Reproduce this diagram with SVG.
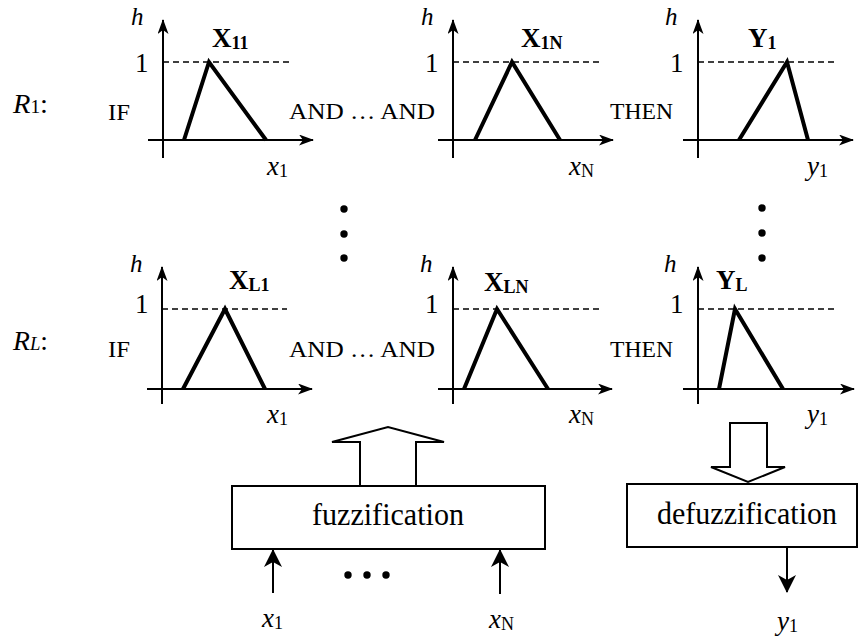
<svg xmlns="http://www.w3.org/2000/svg" width="859" height="637" viewBox="0 0 859 637" font-family="'Liberation Serif', 'Times New Roman', serif">
<style>
text{font-family:"Liberation Serif","Times New Roman",serif;fill:#000}
.axa{stroke:#000;stroke-width:2;fill:none;marker-end:url(#ah)}
.dash{stroke:#000;stroke-width:1.5;stroke-dasharray:6 4;fill:none}
.tri{stroke:#000;stroke-width:4;fill:none;stroke-linejoin:miter}
.h{font-style:italic;font-size:25px}
.one{font-size:27px}
.lbl{font-weight:bold;font-size:27px}
.sub{font-size:18px}
.var{font-style:italic;font-size:27px}
.kw{font-size:24px}
.box{fill:#fff;stroke:#000;stroke-width:2}
.big{font-size:31px}
.blk{fill:#fff;stroke:#000;stroke-width:2;stroke-linejoin:miter}
.dot{fill:#000}
</style>
<defs>
<marker id="ah" viewBox="0 0 15 11" refX="14" refY="5.5" markerWidth="15" markerHeight="11" orient="auto" markerUnits="userSpaceOnUse"><path d="M0,0 L15,5.5 L0,11 L4,5.5 z" fill="#000"/></marker>
<marker id="ai" viewBox="0 0 18 18" refX="17" refY="9" markerWidth="18" markerHeight="18" orient="auto" markerUnits="userSpaceOnUse"><path d="M0,0 L18,9 L0,18 L5,9 z" fill="#000"/></marker>
</defs>
<rect width="859" height="637" fill="#fff"/>

<g id="rule1-label"><text x="13" y="113" font-size="28" textLength="35" lengthAdjust="spacingAndGlyphs"><tspan font-style="italic">R</tspan><tspan font-size="19">1</tspan>:</text></g>
<g id="ruleL-label"><text x="13" y="350" font-size="28" textLength="35" lengthAdjust="spacingAndGlyphs"><tspan font-style="italic">R</tspan><tspan font-size="19" font-style="italic">L</tspan>:</text></g>

<g id="kw-top">
<text class="kw" x="108" y="120" textLength="22" lengthAdjust="spacingAndGlyphs">IF</text>
<text class="kw" x="289" y="119" textLength="146" lengthAdjust="spacingAndGlyphs">AND … AND</text>
<text class="kw" x="610" y="119" textLength="63" lengthAdjust="spacingAndGlyphs">THEN</text>
</g>
<g id="kw-bottom">
<text class="kw" x="108" y="357" textLength="22" lengthAdjust="spacingAndGlyphs">IF</text>
<text class="kw" x="289" y="357" textLength="146" lengthAdjust="spacingAndGlyphs">AND … AND</text>
<text class="kw" x="610" y="357" textLength="63" lengthAdjust="spacingAndGlyphs">THEN</text>
</g>

<g id="chart-X11">
<line class="axa" x1="163" y1="158" x2="163" y2="20"/>
<line class="axa" x1="148" y1="140" x2="313" y2="140"/>
<line class="dash" x1="163" y1="62" x2="290" y2="62"/>
<polyline class="tri" points="184,140 209,62 266,140"/>
<text class="h" x="131" y="25">h</text>
<text class="one" x="135" y="72">1</text>
<text class="lbl" x="212" y="47">X<tspan class="sub" dy="2">11</tspan></text>
<text class="var" x="267" y="175">x<tspan class="sub" font-style="normal" dy="2">1</tspan></text>
</g>

<g id="chart-X1N">
<line class="axa" x1="453" y1="158" x2="453" y2="20"/>
<line class="axa" x1="438" y1="140" x2="613" y2="140"/>
<line class="dash" x1="453" y1="62" x2="600" y2="62"/>
<polyline class="tri" points="475,140 512,62 560,140"/>
<text class="h" x="421" y="25">h</text>
<text class="one" x="425" y="72">1</text>
<text class="lbl" x="521" y="47">X<tspan class="sub" dy="2">1N</tspan></text>
<text class="var" x="569" y="175">x<tspan class="sub" font-style="normal" dy="2">N</tspan></text>
</g>

<g id="chart-Y1">
<line class="axa" x1="698" y1="158" x2="698" y2="20"/>
<line class="axa" x1="683" y1="140" x2="853" y2="140"/>
<line class="dash" x1="698" y1="62" x2="837" y2="62"/>
<polyline class="tri" points="739,140 787,62 808,140"/>
<text class="h" x="665" y="25">h</text>
<text class="one" x="670" y="72">1</text>
<text class="lbl" x="748" y="47">Y<tspan class="sub" dy="2">1</tspan></text>
<text class="var" x="807" y="175">y<tspan class="sub" font-style="normal" dy="2">1</tspan></text>
</g>

<g id="chart-XL1">
<line class="axa" x1="162" y1="404" x2="162" y2="267"/>
<line class="axa" x1="147" y1="389" x2="312" y2="389"/>
<line class="dash" x1="162" y1="309" x2="287" y2="309"/>
<polyline class="tri" points="183,389 225,309 265,389"/>
<text class="h" x="130" y="272">h</text>
<text class="one" x="135" y="313">1</text>
<text class="lbl" x="229" y="289">X<tspan class="sub" dy="2">L1</tspan></text>
<text class="var" x="267" y="423">x<tspan class="sub" font-style="normal" dy="2">1</tspan></text>
</g>

<g id="chart-XLN">
<line class="axa" x1="453" y1="404" x2="453" y2="267"/>
<line class="axa" x1="438" y1="389" x2="612" y2="389"/>
<line class="dash" x1="453" y1="309" x2="600" y2="309"/>
<polyline class="tri" points="464,389 497,309 548,389"/>
<text class="h" x="420" y="272">h</text>
<text class="one" x="425" y="313">1</text>
<text class="lbl" x="484" y="291">X<tspan class="sub" dy="2">LN</tspan></text>
<text class="var" x="569" y="423">x<tspan class="sub" font-style="normal" dy="2">N</tspan></text>
</g>

<g id="chart-YL">
<line class="axa" x1="698" y1="404" x2="698" y2="267"/>
<line class="axa" x1="683" y1="389" x2="854" y2="389"/>
<line class="dash" x1="698" y1="309" x2="836" y2="309"/>
<polyline class="tri" points="719,389 735,309 783,389"/>
<text class="h" x="664" y="272">h</text>
<text class="one" x="670" y="313">1</text>
<text class="lbl" x="716" y="289">Y<tspan class="sub" dy="2">L</tspan></text>
<text class="var" x="807" y="423">y<tspan class="sub" font-style="normal" dy="2">1</tspan></text>
</g>

<g id="vdots">
<circle class="dot" cx="344" cy="209" r="3.7"/>
<circle class="dot" cx="344" cy="234" r="3.7"/>
<circle class="dot" cx="344" cy="258" r="3.7"/>
<circle class="dot" cx="762" cy="208" r="3.7"/>
<circle class="dot" cx="762" cy="233" r="3.7"/>
<circle class="dot" cx="762" cy="258" r="3.7"/>
</g>

<g id="fuzzification">
<rect class="box" x="232" y="486" width="313" height="63"/>
<text class="big" x="388" y="525" text-anchor="middle" textLength="152" lengthAdjust="spacingAndGlyphs">fuzzification</text>
</g>

<g id="defuzzification">
<rect class="box" x="627" y="484" width="230" height="63"/>
<text class="big" x="747" y="524" text-anchor="middle" textLength="180" lengthAdjust="spacingAndGlyphs">defuzzification</text>
</g>

<g id="inputs">
<text class="var" x="262" y="627" font-size="29">x<tspan class="sub" font-style="normal" font-size="20" dy="2">1</tspan></text>
<circle class="dot" cx="348" cy="575" r="3.7"/>
<circle class="dot" cx="367" cy="575" r="3.7"/>
<circle class="dot" cx="386" cy="575" r="3.7"/>
<text class="var" x="489" y="628" font-size="29">x<tspan class="sub" font-style="normal" font-size="20" dy="2">N</tspan></text>
</g>
<g id="output">
<text class="var" x="777" y="630" font-size="29">y<tspan class="sub" font-style="normal" font-size="20" dy="2">1</tspan></text>
</g>

<g id="connectors">
<polygon class="blk" points="360,486 360,442 332,442 388,427 444,442 416,442 416,486"/>
<polygon class="blk" points="730,423 767,423 767,467 785,467 748,482 711,467 730,467"/>
<line x1="273" y1="593" x2="273" y2="550" stroke="#000" stroke-width="2" marker-end="url(#ai)"/>
<line x1="500" y1="594" x2="500" y2="550" stroke="#000" stroke-width="2" marker-end="url(#ai)"/>
<line x1="787" y1="547" x2="787" y2="592" stroke="#000" stroke-width="2" marker-end="url(#ai)"/>
</g>
</svg>
